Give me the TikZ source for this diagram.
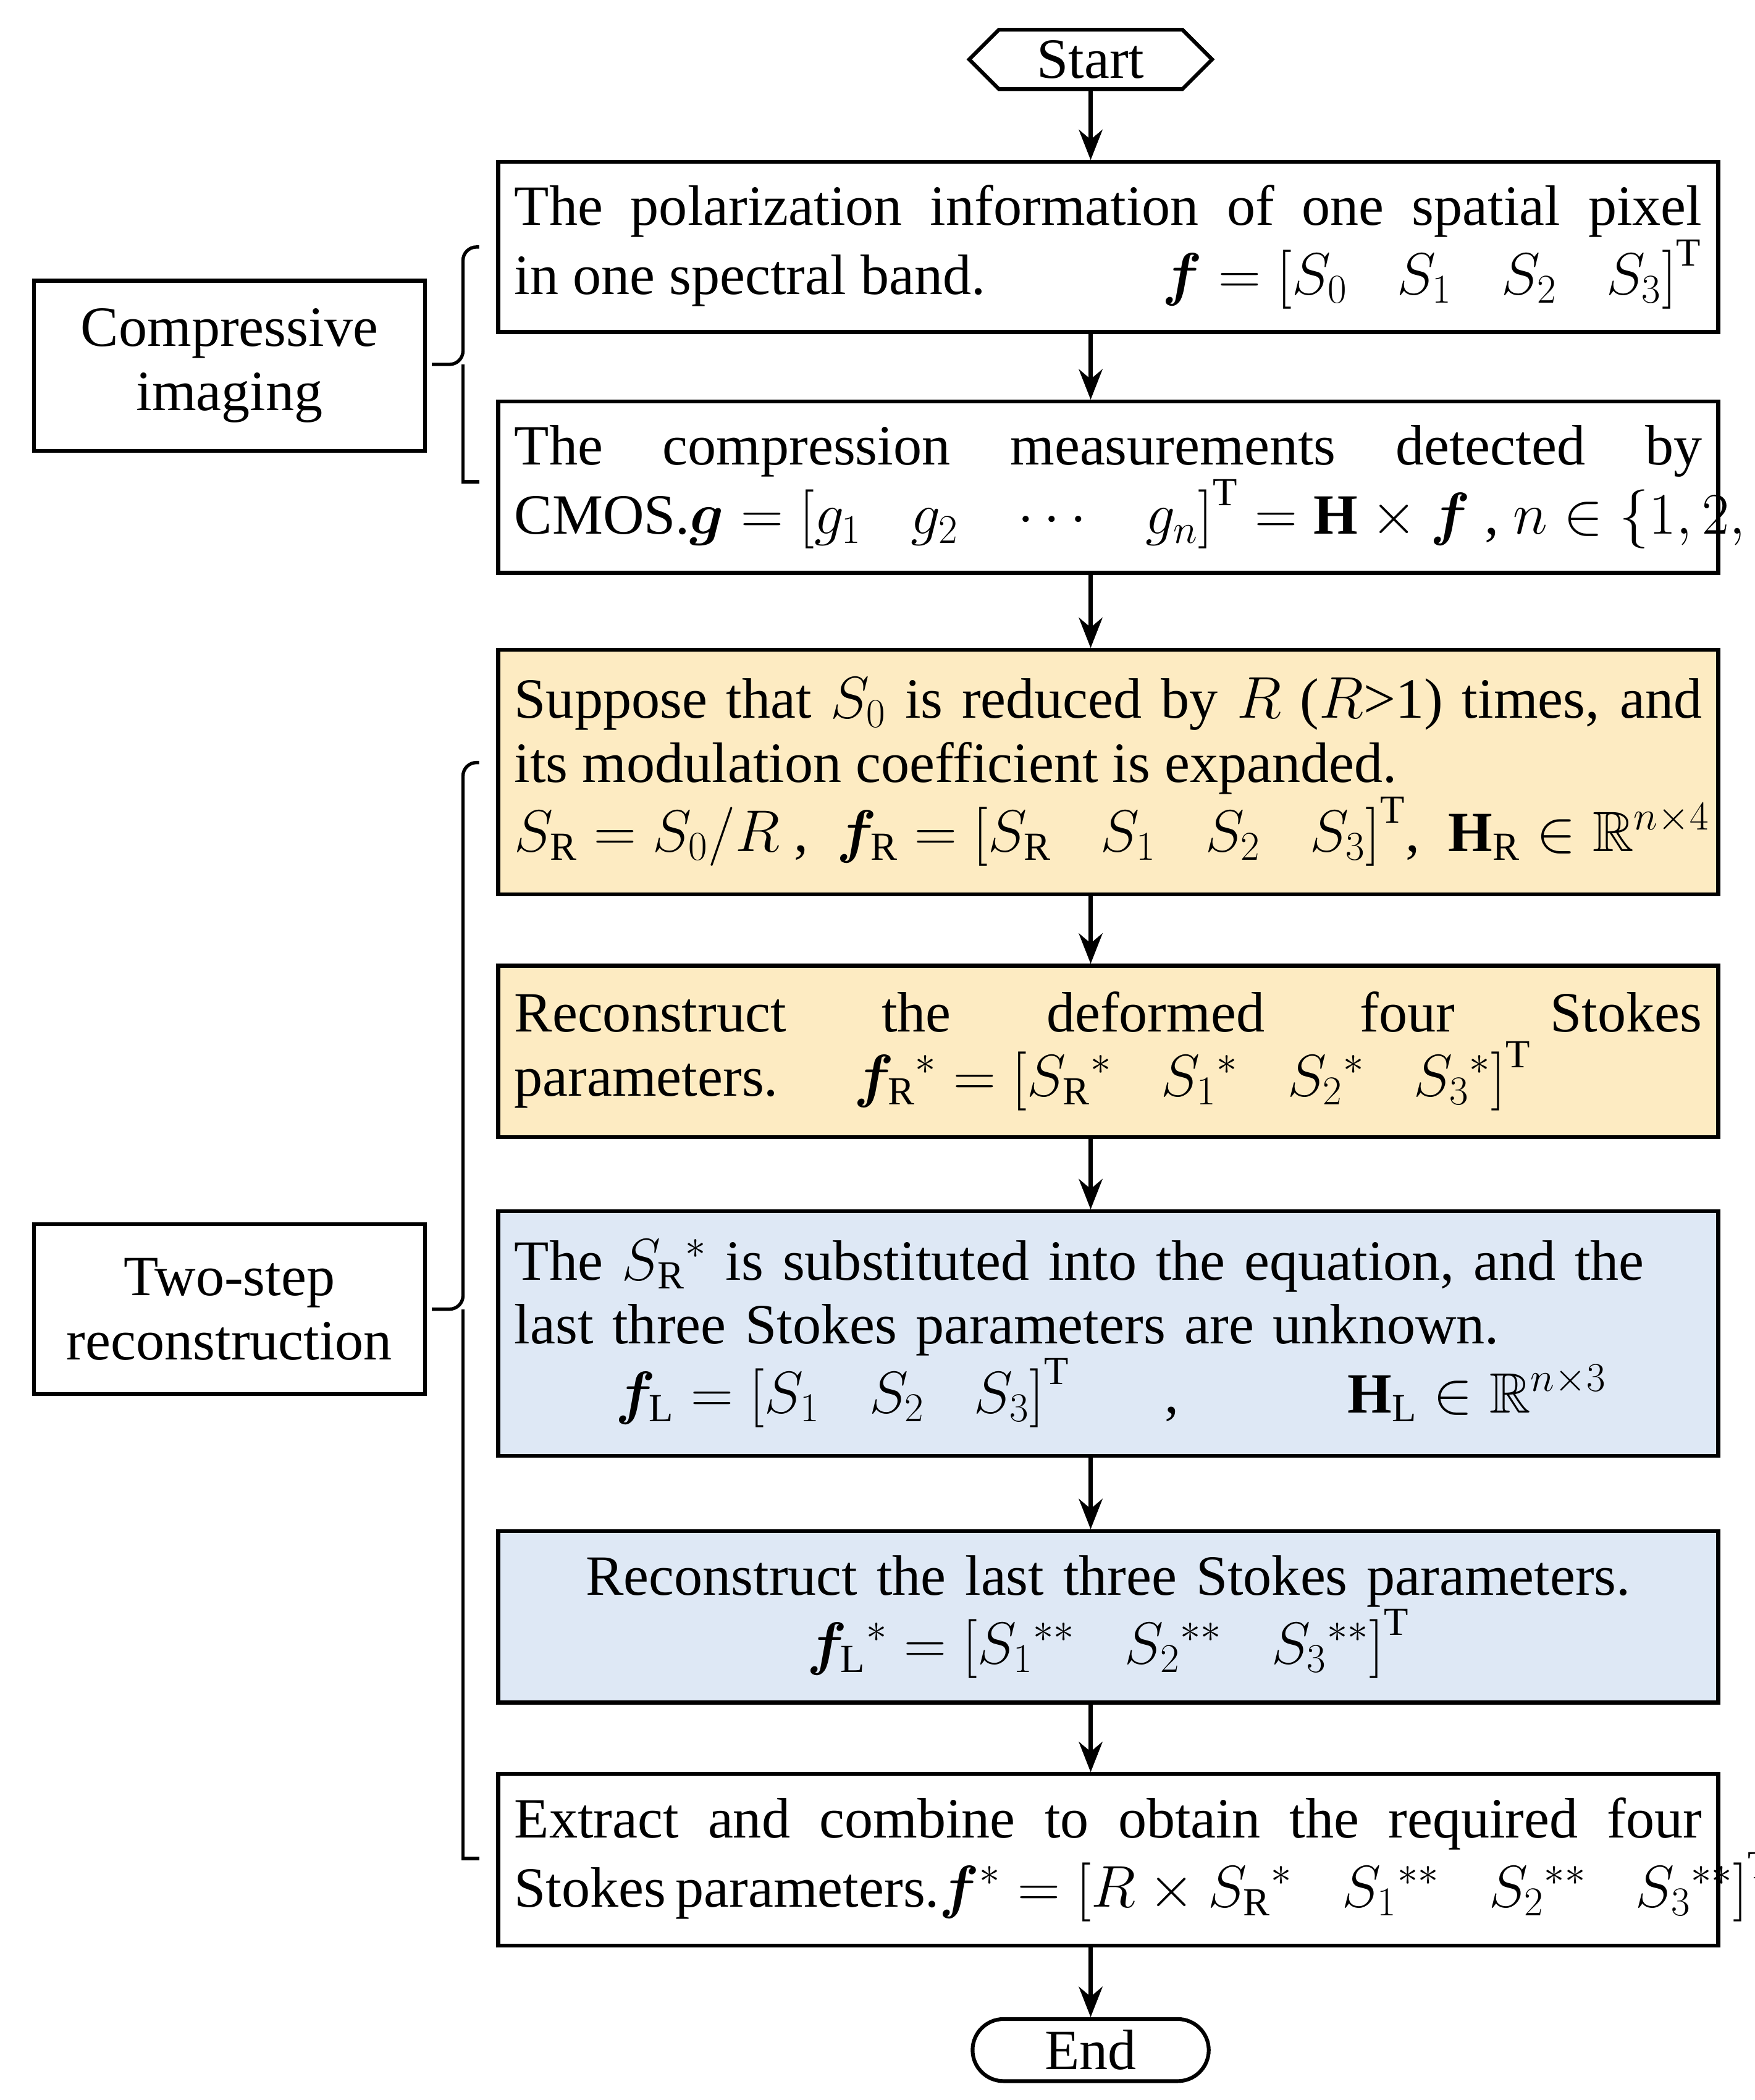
\documentclass[tikz,border=0pt]{standalone}
\usepackage{amsmath,amssymb,bm}
\usepackage{fontspec}
\setmainfont{Liberation Serif}
\usetikzlibrary{arrows.meta,shapes.geometric,shapes.misc,shapes.symbols}
\definecolor{yel}{HTML}{FDEBC2}
\definecolor{blu}{HTML}{DEE8F5}
\begin{document}
\begin{tikzpicture}[x=0.02cm,y=-0.02cm,
  box/.style={draw,line width=1.6pt,minimum width=18.08cm,text width=17.6cm,inner sep=0.22cm,align=justify,font=\fontsize{24}{27}\selectfont},
  lab/.style={draw,line width=1.6pt,minimum width=5.8cm,minimum height=2.52cm,align=center,font=\fontsize{24}{27}\selectfont},
  arr/.style={-{Stealth[length=0.45cm,width=0.35cm]},line width=1.8pt},
  br/.style={line width=1.4pt,rounded corners=0.2cm}]
\useasboundingbox (0,0) rectangle (1300,1556);
\node[draw,line width=1.6pt,shape=signal,signal to=east and west,minimum width=3.6cm,minimum height=0.88cm,font=\fontsize{24}{27}\selectfont,inner sep=0.05cm] (start) at (808,44) {Start};
\node[box,minimum height=2.52cm] (b1) at (821,183) {The polarization information of one spatial pixel\linebreak in one spectral band.\hfill\mbox{$\bm f=\left[S_0\;\;\; S_1\;\;\; S_2\;\;\; S_3\right]^{\mathrm T}$}\hspace*{0.3cm}};
\node[box,minimum height=2.54cm] (b2) at (821,361) {The compression measurements detected by\linebreak CMOS.\hfill\mbox{$\bm g=\left[g_1\;\;\; g_2\;\;\; \cdots\;\;\; g_n\right]^{\mathrm T}=\mathbf H\times\bm f$ , $n\in\{1,2,3\}$}};
\node[box,fill=yel,minimum height=3.62cm] (b3) at (821,572) {Suppose that $S_0$ is reduced by $R$ ($R$>1) times, and\linebreak its modulation coefficient is expanded.\\ \mbox{$S_{\mathrm R}=S_0/R$ , \ $\bm f_{\mathrm R}=\left[S_{\mathrm R}\;\;\; S_1\;\;\; S_2\;\;\; S_3\right]^{\mathrm T}$, \ $\mathbf H_{\mathrm R}\in\mathbb R^{n\times4}$}};
\node[box,fill=yel,minimum height=2.54cm] (b4) at (821,779) {Reconstruct the deformed four Stokes\linebreak parameters. \quad \mbox{$\bm f_{\mathrm R}{}^{*}=\left[S_{\mathrm R}{}^{*}\;\;\; S_1{}^{*}\;\;\; S_2{}^{*}\;\;\; S_3{}^{*}\right]^{\mathrm T}$}};
\node[box,fill=blu,minimum height=3.62cm,align=left] (b5) at (821,988) {The $S_{\mathrm R}{}^{*}$ is substituted into the equation, and the\\ last three Stokes parameters are unknown.\\ \hspace*{1.5cm}\mbox{$\bm f_{\mathrm L}=\left[S_1\;\;\; S_2\;\;\; S_3\right]^{\mathrm T}$\quad\ \ ,\hspace{2.5cm}$\mathbf H_{\mathrm L}\in\mathbb R^{n\times3}$}};
\node[box,fill=blu,minimum height=2.54cm,align=center] (b6) at (821,1198) {Reconstruct the last three Stokes parameters.\\ \mbox{$\bm f_{\mathrm L}{}^{*}=\left[S_1{}^{**}\;\;\; S_2{}^{**}\;\;\; S_3{}^{**}\right]^{\mathrm T}$}};
\node[box,minimum height=2.54cm] (b7) at (821,1378) {Extract and combine to obtain the required four\linebreak Stokes parameters.\hfill\mbox{$\bm f^{*}=\left[R\times S_{\mathrm R}{}^{*}\;\;\; S_1{}^{**}\;\;\; S_2{}^{**}\;\;\; S_3{}^{**}\right]^{\mathrm T}$}};
\node[draw,line width=1.6pt,rounded rectangle,minimum width=3.6cm,minimum height=0.92cm,font=\fontsize{24}{27}\selectfont,inner sep=0.05cm] (end) at (808,1519) {End};
\node[lab] (l1) at (170,271) {Compressive\\imaging};
\node[lab] (l2) at (170,970) {Two-step\\reconstruction};
\foreach \a/\b in {start/b1,b1/b2,b2/b3,b3/b4,b4/b5,b5/b6,b6/b7,b7/end}
  \draw[arr] (\a.south -| end) -- (\b.north -| end);
\draw[br] (355,183) -- (343,183) -- (343,270) -- (320,270);
\draw[line width=1.4pt] (343,270) -- (343,357) -- (355,357);
\draw[br] (355,565) -- (343,565) -- (343,970) -- (320,970);
\draw[line width=1.4pt] (343,970) -- (343,1377) -- (355,1377);
\end{tikzpicture}
\end{document}
